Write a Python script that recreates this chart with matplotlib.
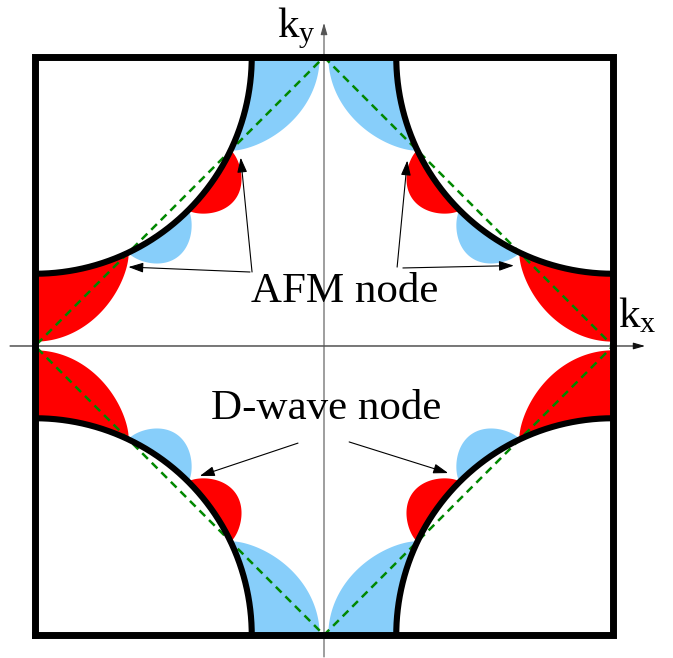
#!/usr/bin/env python3

import numpy as np
import matplotlib
matplotlib.use("Agg")
import matplotlib.pyplot as plt

# Schematic data (k in units of pi) -------------------------------------------------------------------------

fermi_radius = 0.75          # radius of the hole pockets around (+-pi, +-pi)
# gap lobes along each arc, ordered from the kx = +-pi edge towards the ky = +-pi edge
lobe_amps = [0.235, 0.10, 0.10, 0.235]
lobe_signs = [1, -1, 1, -1]
lobe_peaks = ["start", "mid", "mid", "end"]

afm_label = "AFM node"
dwave_label = "D-wave node"

plt.rcParams["font.family"] = ["Liberation Serif", "DejaVu Serif"]
plt.rcParams["mathtext.fontset"] = "custom"
plt.rcParams["mathtext.rm"] = "Liberation Serif"
plt.rcParams["mathtext.it"] = "Liberation Serif"

sign_colors = {1: "#ff0000", -1: "#87cefa"}
green = "#008800"

fig = plt.figure(figsize=(6.73, 6.58), dpi=100)
ax = fig.add_axes([0, 0, 1, 1])
ax.set_xlim(-1.1211, 1.2076)
ax.set_ylim(-1.0796, 1.1972)
ax.axis("off")

# angle of the AFM node on the arc (where the arc crosses |kx|+|ky| = 1)
t_afm = np.degrees(np.arcsin(1 / (fermi_radius * np.sqrt(2)))) - 45
lobe_bounds = [(0, t_afm), (t_afm, 45), (45, 90 - t_afm), (90 - t_afm, 90)]


def arc_xy(sx, sy, t, r):
    t = np.radians(t)
    return sx * (1 - r * np.sin(t)), sy * (1 - r * np.cos(t))


def lobe_profile(t, t0, t1, peak):
    s = (t - t0) / (t1 - t0)
    if peak == "start":
        return np.cos(0.5 * np.pi * s) ** 0.8
    if peak == "end":
        return np.sin(0.5 * np.pi * s) ** 0.8
    return np.sin(np.pi * s) ** 0.7


for sx in [-1, 1]:
    for sy in [-1, 1]:
        # gap lobes
        for (t0, t1), amp, sgn, peak in zip(lobe_bounds, lobe_amps, lobe_signs, lobe_peaks):
            t = np.linspace(t0, t1, 160)
            g = amp * lobe_profile(t, t0, t1, peak)
            xi, yi = arc_xy(sx, sy, t, fermi_radius)
            xo, yo = arc_xy(sx, sy, t, fermi_radius + g)
            ax.fill(np.concatenate([xi, xo[::-1]]), np.concatenate([yi, yo[::-1]]),
                    color=sign_colors[sgn], lw=0, zorder=1)
        # Fermi surface arc
        t = np.linspace(0, 90, 200)
        xa, ya = arc_xy(sx, sy, t, fermi_radius)
        ax.plot(xa, ya, color="k", lw=4.4, solid_capstyle="butt", zorder=5)

# AFM zone boundary
ax.plot([0, 1, 0, -1, 0], [1, 0, -1, 0, 1], color=green, lw=1.8,
        linestyle=(0, (3.2, 2.2)), zorder=4)

# axes
axis_arrow = dict(arrowstyle="-|>,head_length=0.35,head_width=0.1", color="#111111",
                  lw=0.8, shrinkA=0, shrinkB=0, mutation_scale=20)
ax.annotate("", xy=(1.111, 0), xytext=(-1.0865, 0), arrowprops=axis_arrow, zorder=3)
ax.annotate("", xy=(0, 1.118), xytext=(0, -1.076),
            arrowprops=dict(axis_arrow, color="#555555"), zorder=3)

# Brillouin zone
ax.plot([-1, 1, 1, -1, -1], [-1, -1, 1, 1, -1], color="k", lw=5,
        solid_joinstyle="miter", zorder=6)

ax.text(-0.163, 1.069, r"$\mathrm{k_y}$", fontsize=31, ha="left", va="baseline")
ax.text(1.017, 0.066, r"$\mathrm{k_x}$", fontsize=31, ha="left", va="baseline")

# annotations -----------------------------------------------------------------------------------------------

note_arrow = dict(arrowstyle="-|>,head_length=0.45,head_width=0.15", color="k",
                  lw=0.8, shrinkA=0, shrinkB=0, mutation_scale=20)

ax.text(0.073, 0.152, afm_label, fontsize=31, ha="center", va="baseline")
ax.text(0.009, -0.253, dwave_label, fontsize=31, ha="center", va="baseline")

nx, ny = arc_xy(1, 1, t_afm, fermi_radius)        # node near the kx edge
mx, my = arc_xy(1, 1, 90 - t_afm, fermi_radius)   # node near the ky edge
dx, dy = arc_xy(1, 1, 45, fermi_radius)           # d-wave node
afm_arrows = [((-0.256, 0.256), (-nx, ny - 0.05)),
              ((-0.249, 0.256), (-mx + 0.035, my - 0.025)),
              ((0.253, 0.273), (mx - 0.035, my - 0.035)),
              ((0.273, 0.270), (nx - 0.02, ny - 0.045))]
for start, tip in afm_arrows:
    ax.annotate("", xy=tip, xytext=start, arrowprops=note_arrow, zorder=7)

dwave_arrows = [((-0.090, -0.336), (-dx + 0.04, -dy + 0.02)),
                ((0.087, -0.332), (dx - 0.04, -dy + 0.03))]
for start, tip in dwave_arrows:
    ax.annotate("", xy=tip, xytext=start, arrowprops=note_arrow, zorder=7)

fig.savefig("out.png", dpi=100)
